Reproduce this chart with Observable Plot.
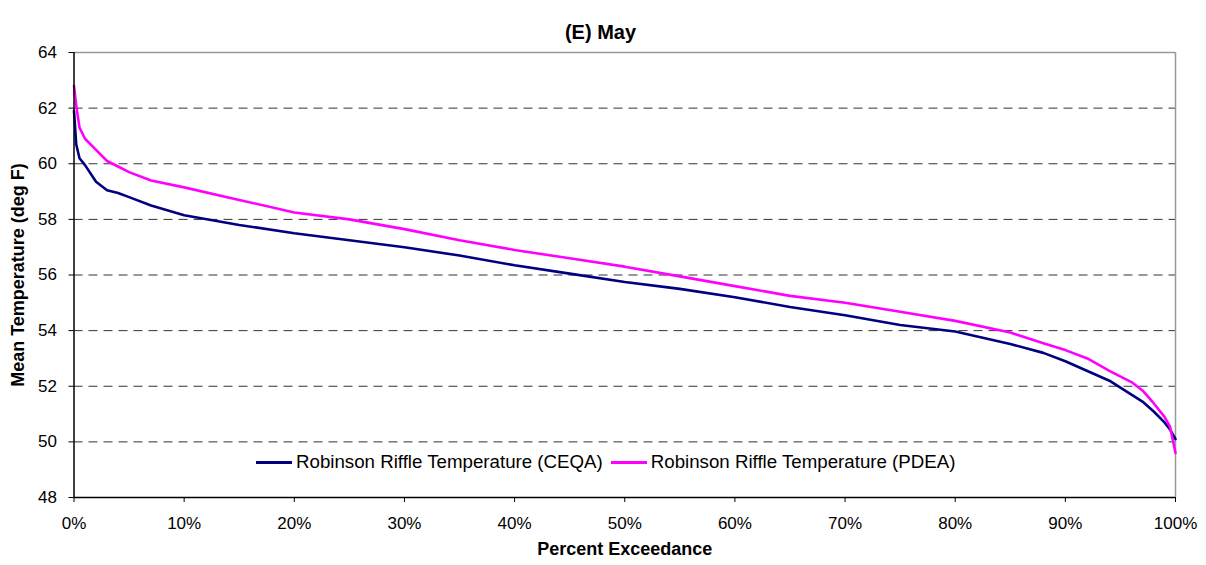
<!DOCTYPE html>
<html>
<head>
<meta charset="utf-8">
<script src="https://cdn.jsdelivr.net/npm/d3@7"></script>
<script src="https://cdn.jsdelivr.net/npm/@observablehq/plot@0.6"></script>
<style>
  body { margin: 0; background: #fff; font-family: "Liberation Sans", Arial, sans-serif; }
  #wrap { position: relative; width: 1206px; height: 565px; }
  #legend { position: absolute; left: 252px; top: 450px; height: 24px; background: #fff; display: flex; align-items: center; font-size: 18.7px; color: #000; padding: 0 4px; }
  .sw { display: inline-block; width: 36px; height: 3px; margin-right: 4px; }
  .item { display: flex; align-items: center; margin-right: 8px; }
</style>
</head>
<body>
<div id="wrap"></div>
<script>
const title = "(E) May";
const xLabel = "Percent Exceedance";
const yLabel = "Mean Temperature (deg F)";
const seriesNames = ["Robinson Riffle Temperature (CEQA)", "Robinson Riffle Temperature (PDEA)"];
const seriesColors = ["#000080", "#ff00ff"];

const pct = [0, 0.2, 0.5, 1, 2, 3, 4, 5, 7, 10, 15, 20, 25, 30, 35, 40, 45, 50, 55, 60, 65, 70, 75, 80, 85, 88, 90, 92, 94, 96, 97, 98, 99, 99.5, 100];
const ceqa = [61.9, 60.7, 60.2, 59.95, 59.35, 59.05, 58.95, 58.8, 58.5, 58.15, 57.8, 57.5, 57.25, 57.0, 56.7, 56.35, 56.05, 55.75, 55.5, 55.2, 54.85, 54.55, 54.2, 53.97, 53.52, 53.2, 52.9, 52.55, 52.2, 51.7, 51.45, 51.1, 50.7, 50.45, 50.1];
const pdea = [62.8, 62.1, 61.3, 60.9, 60.5, 60.1, 59.9, 59.7, 59.4, 59.15, 58.7, 58.25, 58.0, 57.65, 57.25, 56.9, 56.6, 56.3, 55.95, 55.6, 55.25, 55.0, 54.68, 54.35, 53.93, 53.55, 53.3, 53.0, 52.55, 52.15, 51.85, 51.4, 50.9, 50.55, 49.6];

const yTicks = [48, 50, 52, 54, 56, 58, 60, 62, 64];
const gridVals = [50, 52, 54, 56, 58, 60, 62];
const xTicks = [0, 10, 20, 30, 40, 50, 60, 70, 80, 90, 100];

const data = [
  ...pct.map((p, i) => ({p, v: ceqa[i], s: seriesNames[0]})),
  ...pct.map((p, i) => ({p, v: pdea[i], s: seriesNames[1]}))
];

const chart = Plot.plot({
  width: 1206,
  height: 565,
  marginTop: 52,
  marginBottom: 68,
  marginLeft: 73.5,
  marginRight: 31,
  style: {fontFamily: "'Liberation Sans', Arial, sans-serif", fontSize: "17px", color: "#000", background: "#fff"},
  x: {domain: [0, 100]},
  y: {domain: [48, 64]},
  color: {domain: seriesNames, range: seriesColors},
  marks: [
    Plot.ruleY(gridVals, {stroke: "#333", strokeDasharray: "9,6", strokeWidth: 1}),
    Plot.ruleY([64], {stroke: "#999", strokeWidth: 1.5}),
    Plot.ruleX([100], {stroke: "#999", strokeWidth: 1.5}),
    Plot.line(data, {x: "p", y: "v", stroke: "s", z: "s", strokeWidth: 2.6}),
    Plot.ruleY([48], {stroke: "#000", strokeWidth: 1.5}),
    Plot.ruleX([0], {stroke: "#000", strokeWidth: 1.5}),
    Plot.axisY({ticks: yTicks, tickSize: 5, tickPadding: 12, label: null, fontSize: 17}),
    Plot.axisX({ticks: xTicks, tickSize: 5, tickPadding: 14, tickFormat: d => d + "%", label: null, fontSize: 17}),
    Plot.text([title], {x: () => 47.8, frameAnchor: "top", dy: -28, fontWeight: "bold", fontSize: 20}),
    Plot.text([xLabel], {frameAnchor: "bottom", dy: 57, fontWeight: "bold", fontSize: 18, letterSpacing: "0.8px"}),
    Plot.text([yLabel], {frameAnchor: "left", textAnchor: "middle", dx: -56, rotate: -90, fontWeight: "bold", fontSize: 18, letterSpacing: "0.2px"})
  ]
});
document.getElementById("wrap").appendChild(chart);

const legend = document.createElement("div");
legend.id = "legend";
seriesNames.forEach((n, i) => {
  const it = document.createElement("span");
  it.className = "item";
  const sw = document.createElement("span");
  sw.className = "sw";
  sw.style.background = seriesColors[i];
  it.appendChild(sw);
  it.appendChild(document.createTextNode(n));
  legend.appendChild(it);
});
document.getElementById("wrap").appendChild(legend);
</script>
</body>
</html>
